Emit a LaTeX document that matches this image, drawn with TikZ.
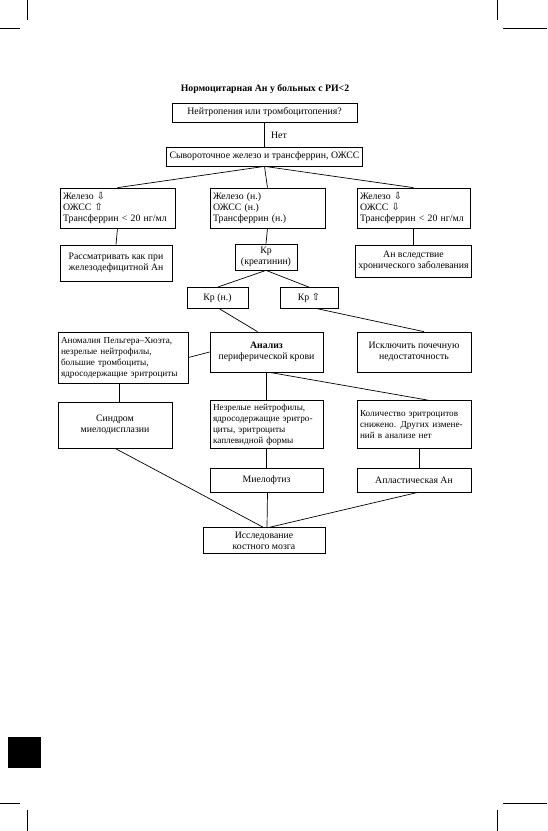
\documentclass[tikz,border=0pt]{standalone}
\usepackage{fontspec}
\setmainfont{Liberation Serif}
\newfontfamily\symfont{DejaVu Sans}
\newcommand{\arrdn}{{\symfont\char"21E9}}
\newcommand{\arrup}{{\symfont\char"21E7}}
\usetikzlibrary{calc}
\begin{document}
\begin{tikzpicture}[x=1pt,y=-1pt,
  box/.style={draw, line width=0.7pt, inner sep=3pt, font=\fontsize{9.8}{11}\selectfont, align=center},
  lbox/.style={box, align=left, text width=#1},
  small/.style={font=\fontsize{9.2}{11}\selectfont},
  conn/.style={line width=0.7pt},
  crop/.style={line width=0.6pt}]
\useasboundingbox (0,0) rectangle (547,831);
% crop marks
\draw[crop] (27,0) -- (27,20);
\draw[crop] (0,28) -- (20,28);
\draw[crop] (497,0) -- (497,20);
\draw[crop] (503,28) -- (547,28);
\draw[crop] (0,803) -- (20,803);
\draw[crop] (27,810) -- (27,831);
\draw[crop] (503,803) -- (547,803);
\draw[crop] (497,810) -- (497,831);
\fill (8,737) rectangle (41,768);
% title
\node[font=\fontsize{9.8}{11}\selectfont\bfseries] (title) at (265,89) {Нормоцитарная Ан у больных с РИ<2};
% boxes
\node[box, minimum width=185, minimum height=19] (q1) at (264.5,112.5) {Нейтропения или тромбоцитопения?};
\node[box, minimum width=195, minimum height=19] (serum) at (264.5,156.5) {Сывороточное железо и трансферрин, ОЖСС};
\node[lbox=109, minimum height=40] (ironL) at (117.5,208) {Железо \arrdn\\ОЖСС \arrup\\Трансферрин < 20 нг/мл};
\node[lbox=109, minimum height=40] (ironM) at (267.5,208) {Железо (н.)\\ОЖСС (н.)\\Трансферрин (н.)};
\node[lbox=107, minimum height=40] (ironR) at (413.5,208) {Железо \arrdn\\ОЖСС \arrdn\\Трансферрин < 20 нг/мл};
\node[box, minimum width=112, minimum height=36] (ida) at (116,263) {Рассматривать как при\\железодефицитной Ан};
\node[box, minimum width=62, minimum height=26] (kr) at (266,257) {Кр\\(креатинин)};
\node[box, minimum width=113, minimum height=32] (acd) at (413.5,261) {Ан вследствие\\хронического заболевания};
\node[box, minimum width=61, minimum height=21] (krn) at (217.5,298) {Кр (н.)};
\node[box, minimum width=58, minimum height=21] (krup) at (309,298) {Кр \arrup};
\node[lbox=124, small, minimum height=51] (anom) at (123,357.5) {Аномалия Пельгера–Хюэта,\\незрелые нейтрофилы,\\большие тромбоциты,\\ядросодержащие эритроциты};
\node[box, minimum width=113, minimum height=40] (cbc) at (266.5,352) {\textbf{Анализ}\\периферической крови};
\node[box, minimum width=114, minimum height=40] (renal) at (414,352) {Исключить почечную\\недостаточность};
\node[box, minimum width=114, minimum height=46] (mds) at (115,425) {Синдром\\миелодисплазии};
\node[lbox=107, small, minimum height=48] (immat) at (266.5,424.5) {Незрелые нейтрофилы,\\ядросодержащие эритро-\\циты, эритроциты\\каплевидной формы};
\node[lbox=108, small, minimum height=48] (count) at (414,424.5) {Количество эритроцитов\\снижено. Других измене-\\ний в анализе нет};
\node[box, minimum width=113, minimum height=24] (mf) at (266.5,480) {Миелофтиз};
\node[box, minimum width=114, minimum height=24] (aa) at (414,480) {Апластическая Ан};
\node[box, minimum width=122, minimum height=26] (bm) at (264,540.5) {Исследование\\костного мозга};
% connectors
\draw[conn] (q1.south) -- (serum.north);
\node[font=\fontsize{9.8}{11}\selectfont] (no) at (279,135) {Нет};
\draw[conn] (serum.south) -- (ironL.north);
\draw[conn] (serum.south) -- (ironM.north);
\draw[conn] (serum.south) -- (ironR.north);
\draw[conn] (ironL.south) -- (ida.north);
\draw[conn] (ironM.south) -- (kr.north);
\draw[conn] (ironR.south) -- (acd.north);
\draw[conn] (kr.south) -- (krn.north);
\draw[conn] (kr.south) -- (krup.north);
\draw[conn] ($(krn.south)+(2,0)$) -- ($(cbc.north)+(-9,0)$);
\draw[conn] ($(krup.south)+(9,0)$) -- ($(renal.north)+(10,0)$);
\draw[conn] (anom.east) -- (cbc.west);
\draw[conn] ($(anom.south)+(-4,0)$) -- ($(mds.north)+(4,0)$);
\draw[conn] (cbc.south) -- (immat.north);
\draw[conn] ($(cbc.south)+(3,0)$) -- ($(count.north)+(14,0)$);
\draw[conn] (immat.south) -- (mf.north);
\draw[conn] ($(count.south)+(5,0)$) -- ($(aa.north)+(5,0)$);
\draw[conn] (mds.south) -- ($(bm.north)+(-1,0)$);
\draw[conn] ($(mf.south)+(1,0)$) -- ($(bm.north)+(3,0)$);
\draw[conn] ($(aa.south)+(4,0)$) -- ($(bm.north)+(6,0)$);
\end{tikzpicture}
\end{document}
